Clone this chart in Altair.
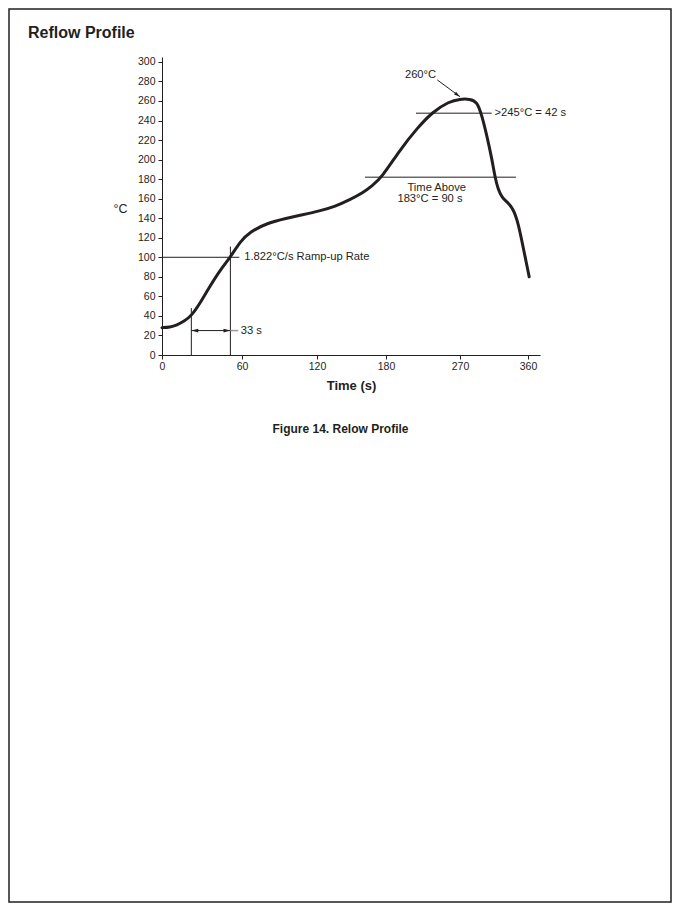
import altair as alt
import pandas as pd

# ---- data ----
time_s = [0, 6, 11, 17, 22, 28.5, 34, 43.5, 51.3, 58.5, 66.4, 80, 96, 106.4, 122.6, 135.7,
          148.7, 160, 167.8, 176.5, 197, 217.7, 237, 256.8, 270, 283.2, 292.5, 299, 305.7,
          312.4, 316.3, 320.3, 325.6, 332.2, 340.1, 346.8, 353.4, 361]
temp_c = [28, 28.5, 30.5, 35, 40, 53, 66, 87, 100, 116, 126, 135, 140, 143, 147.5, 152,
          159, 166, 173, 182, 210, 232, 249, 259.5, 262, 262, 259.5, 245, 224,
          200, 182, 170, 161, 157, 150, 136, 111, 80]

x_ticks = [0, 60, 120, 180, 270, 360]
y_ticks = list(range(0, 301, 20))

# annotation segments (dark)
seg_t1 = [22, 51.3, 0, 161.7, 216.5, 22, 242.4]
seg_t2 = [22, 51.3, 58, 344, 312, 51.3, 270]
seg_c1 = [0, 0, 100, 182, 247.5, 25, 281.5]
seg_c2 = [48, 111, 100, 182, 247.5, 25, 264.4]
# gray extension of the 33 s arrow
gray_t1, gray_t2, gray_c = [51.3], [57.2], [25]

# arrow heads
head_t = [22, 51.3, 270]
head_c = [25, 25, 264.4]
head_ang = [180, 0, 36]

# text notes
left_text = ["1.822°C/s Ramp-up Rate", "33 s", ">245°C = 42 s"]
left_t = [61.8, 59, 315.6]
left_c = [100, 25, 247.5]
center_text = ["Time Above", "183°C = 90 s", "260°C"]
center_t = [241.7, 233.5, 222]
center_c = [171.2, 159.4, 286.6]

INK = "#231f20"
FONT = "Liberation Sans"
W, H = 378, 298

xscale = alt.Scale(domain=[0, 60, 120, 180, 270, 360, 370],
                   range=[0, 80, 155, 224, 298, 366, 378], nice=False, zero=False)
yscale = alt.Scale(domain=[0, 305], nice=False, zero=False)
xaxis = alt.Axis(values=x_ticks, title="Time (s)", grid=False, tickSize=4, labelPadding=2,
                 titlePadding=8, labelFontSize=10.5, titleFontSize=13, titleFontWeight="bold",
                 labelFont=FONT, titleFont=FONT, labelColor=INK, titleColor=INK,
                 domainColor=INK, tickColor=INK, labelFlush=False)
yaxis = alt.Axis(values=y_ticks, title="°C", grid=False, tickSize=4, labelPadding=3,
                 labelFontSize=10.5, titleFontSize=12.5, titleFontWeight="normal",
                 labelFont=FONT, titleFont=FONT, labelColor=INK, titleColor=INK,
                 domainColor=INK, tickColor=INK, titleAngle=0, titleX=-42, titleY=151,
                 titleAlign="center", titleBaseline="middle", labelFlush=False)


def X(f):
    return alt.X(f, type="quantitative", scale=xscale, axis=xaxis)


def Y(f):
    return alt.Y(f, type="quantitative", scale=yscale, axis=yaxis)


curve_df = pd.DataFrame({"t": time_s, "c": temp_c})
seg_df = pd.DataFrame({"t": seg_t1, "t2": seg_t2, "c": seg_c1, "c2": seg_c2})
gray_df = pd.DataFrame({"t": gray_t1, "t2": gray_t2, "c": gray_c})
head_df = pd.DataFrame({"t": head_t, "c": head_c, "ang": head_ang,
                        "sz": [190, 190, 150]})
left_df = pd.DataFrame({"t": left_t, "c": left_c, "label": left_text})
center_df = pd.DataFrame({"t": center_t, "c": center_c, "label": center_text})

curve = alt.Chart(curve_df).mark_line(
    color=INK, strokeWidth=3, interpolate="basis", strokeCap="round", strokeJoin="round"
).encode(x=X("t"), y=Y("c"))

segs = alt.Chart(seg_df).mark_rule(color=INK, strokeWidth=1).encode(
    x=X("t"), x2="t2", y=Y("c"), y2="c2")

gray = alt.Chart(gray_df).mark_rule(color="#9a9a9a", strokeWidth=1.5).encode(
    x=X("t"), x2="t2", y=Y("c"))

heads = alt.Chart(head_df).mark_point(
    shape="M0,0L-1,-0.28L-1,0.28Z", filled=True, color=INK, opacity=1
).encode(x=X("t"), y=Y("c"), angle=alt.Angle("ang:Q", scale=None),
         size=alt.Size("sz:Q", scale=None, legend=None))

left_notes = alt.Chart(left_df).mark_text(
    align="left", baseline="middle", font=FONT, fontSize=11.2, color=INK
).encode(x=X("t"), y=Y("c"), text="label:N")

center_notes = alt.Chart(center_df).mark_text(
    align="center", baseline="middle", font=FONT, fontSize=11.2, color=INK
).encode(x=X("t"), y=Y("c"), text="label:N")

title = alt.Chart(pd.DataFrame({"label": ["Reflow Profile"]})).mark_text(
    align="left", baseline="alphabetic", font=FONT, fontSize=16, fontWeight="bold", color=INK
).encode(x=alt.value(-134), y=alt.value(-19), text="label:N")

caption = alt.Chart(pd.DataFrame({"label": ["Figure 14. Relow Profile"]})).mark_text(
    align="center", baseline="alphabetic", font=FONT, fontSize=12, fontWeight="bold", color=INK
).encode(x=alt.value(178.5), y=alt.value(376), text="label:N")

frame = alt.Chart(pd.DataFrame({"k": [0]})).mark_rect(
    fill="white", fillOpacity=0, stroke=INK, strokeWidth=1.5
).encode(x=alt.value(-153), x2=alt.value(509), y=alt.value(-48), y2=alt.value(845))

chart = alt.layer(
    frame, segs, gray, curve, heads, left_notes, center_notes, title, caption
).properties(
    width=W, height=H,
    padding={"left": 154, "top": 49, "right": 132, "bottom": 548},
    autosize=alt.AutoSizeParams(type="none"),
    background="white",
).configure_view(strokeWidth=0)

chart.save("out.html", embed_options={"renderer": "svg", "actions": False})
